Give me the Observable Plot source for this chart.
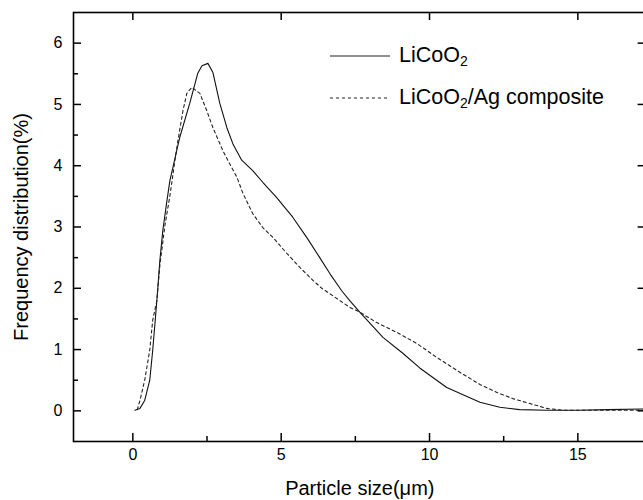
<!DOCTYPE html>
<html>
<head>
<meta charset="utf-8">
<script src="https://cdn.jsdelivr.net/npm/d3@7"></script>
<script src="https://cdn.jsdelivr.net/npm/@observablehq/plot@0.6"></script>
<style>
  html, body { margin: 0; padding: 0; background: #fff; overflow: hidden; }
  #wrap { position: relative; width: 643px; height: 500px; overflow: hidden; background: #fff; }
  #chart { width: 660px; }
  #chart svg { display: block; max-width: none !important; }
  #chart g[aria-label="x-axis label"], #chart g[aria-label="y-axis label"] { font-size: 20px; }
  .leg { position: absolute; display: flex; align-items: center; font-family: "Liberation Sans", Arial, sans-serif; font-size: 21.5px; color: #000; white-space: nowrap; }
  .leg svg { display: block; margin-right: 9px; }
  .leg sub { font-size: 14px; vertical-align: -4px; line-height: 0; }
</style>
</head>
<body>
<div id="wrap">
  <div id="chart"></div>
  <div id="legend"></div>
</div>
<script>
// --- data ---
const xSolid = [0.07, 0.24, 0.40, 0.57, 0.67, 0.81, 0.91, 1.01, 1.15, 1.25, 1.35, 1.48, 1.58, 1.92, 2.19, 2.33, 2.53, 2.70, 2.93, 3.17, 3.37, 3.67, 4.04, 4.38, 4.85, 5.39, 5.86, 6.30, 6.64, 7.04, 7.31, 7.65, 8.43, 9.10, 9.67, 10.58, 11.70, 12.37, 13.04, 13.95, 15.0, 16.0, 17.3];
const ySolid = [0.01, 0.04, 0.17, 0.50, 0.99, 1.80, 2.45, 2.94, 3.43, 3.76, 3.97, 4.25, 4.46, 5.02, 5.51, 5.63, 5.67, 5.52, 5.02, 4.62, 4.36, 4.09, 3.92, 3.73, 3.48, 3.16, 2.83, 2.50, 2.24, 1.96, 1.80, 1.61, 1.20, 0.94, 0.70, 0.38, 0.14, 0.06, 0.02, 0.01, 0.01, 0.02, 0.03];

const xDash = [0.15, 0.24, 0.40, 0.57, 0.67, 0.81, 0.91, 1.08, 1.25, 1.42, 1.52, 1.69, 1.82, 1.99, 2.26, 2.49, 2.70, 3.03, 3.20, 3.51, 3.71, 4.04, 4.38, 4.72, 5.19, 5.63, 6.07, 6.37, 7.31, 7.65, 8.22, 8.90, 9.57, 10.25, 11.02, 11.70, 12.27, 12.81, 13.38, 13.95, 14.49, 16.0, 17.3];
const yDash = [0.02, 0.17, 0.50, 0.99, 1.48, 1.80, 2.37, 3.02, 3.51, 4.09, 4.41, 4.90, 5.18, 5.28, 5.18, 4.90, 4.62, 4.25, 4.09, 3.81, 3.55, 3.22, 2.99, 2.83, 2.57, 2.34, 2.13, 2.00, 1.69, 1.61, 1.44, 1.28, 1.10, 0.87, 0.63, 0.43, 0.30, 0.20, 0.12, 0.04, 0.01, 0.01, 0.01];

const seriesNames = ["LiCoO2", "LiCoO2/Ag composite"];
const xMajorTicks = [0, 5, 10, 15];
const xMinorTicks = [2.5, 7.5, 12.5];
const yMajorTicks = [0, 1, 2, 3, 4, 5, 6];
const yMinorTicks = [0.5, 1.5, 2.5, 3.5, 4.5, 5.5];
const xTitle = "Particle size(μm)";
const yTitle = "Frequency distribution(%)";

// --- build tables ---
const solid = xSolid.map((x, i) => ({x, y: ySolid[i], s: seriesNames[0]}));
const dashed = xDash.map((x, i) => ({x, y: yDash[i], s: seriesNames[1]}));

const W = 660, H = 500;
const mL = 73, mR = 14.4, mT = 12, mB = 59;
const plotW = W - mL - mR, plotH = H - mT - mB;
const major = 8, minor = 5;
const tickStyle = {stroke: "#000", strokeWidth: 1.5};

const chart = Plot.plot({
  width: W,
  height: H,
  marginLeft: mL,
  marginRight: mR,
  marginTop: mT,
  marginBottom: mB,
  style: {fontFamily: "'Liberation Sans', Arial, sans-serif", fontSize: "16px", color: "#000", background: "#fff"},
  x: {domain: [-2, 17.3]},
  y: {domain: [-0.5, 6.5]},
  marks: [
    Plot.line(solid, {x: "x", y: "y", stroke: "#111", strokeWidth: 1.1}),
    Plot.line(dashed, {x: "x", y: "y", stroke: "#222", strokeWidth: 1.1, strokeDasharray: "3,3"}),
    // inward ticks
    Plot.tickX(xMajorTicks, {x: d => d, insetTop: plotH - major, ...tickStyle}),
    Plot.tickX(xMinorTicks, {x: d => d, insetTop: plotH - minor, ...tickStyle}),
    Plot.tickX(xMajorTicks, {x: d => d, insetBottom: plotH - major, ...tickStyle}),
    Plot.tickY(yMajorTicks, {y: d => d, insetRight: plotW - major, ...tickStyle}),
    Plot.tickY(yMinorTicks, {y: d => d, insetRight: plotW - minor, ...tickStyle}),
    Plot.tickY(yMajorTicks, {y: d => d, insetLeft: plotW - major, ...tickStyle}),
    // tick labels and titles
    Plot.axisX({ticks: xMajorTicks, anchor: "bottom", tickSize: 0, tickPadding: 7, tickFormat: d => String(d),
      label: xTitle, labelAnchor: "center", labelArrow: "none", labelOffset: 53}),
    Plot.axisY({ticks: yMajorTicks, anchor: "left", tickSize: 0, tickPadding: 11, tickFormat: d => String(d),
      label: yTitle, labelAnchor: "center", labelArrow: "none", labelOffset: 60}),
    Plot.frame({stroke: "#000", strokeWidth: 1.6})
  ]
});
document.getElementById("chart").appendChild(chart);

// --- legend (HTML overlay inside the plot frame) ---
const legendItems = [
  {name: seriesNames[0], dash: null, top: 43, left: 330},
  {name: seriesNames[1], dash: "3,3", top: 85, left: 330}
];
const leg = document.getElementById("legend");
for (const it of legendItems) {
  const d = document.createElement("div");
  d.className = "leg";
  d.style.top = it.top + "px";
  d.style.left = it.left + "px";
  const html = it.name.replace("LiCoO2", "LiCoO<sub>2</sub>");
  d.innerHTML = `<svg width="60" height="24"><line x1="0" x2="60" y1="12" y2="12" stroke="#222" stroke-width="1.1" ${it.dash ? `stroke-dasharray="${it.dash}"` : ""}/></svg><span>${html}</span>`;
  leg.appendChild(d);
}
</script>
</body>
</html>
